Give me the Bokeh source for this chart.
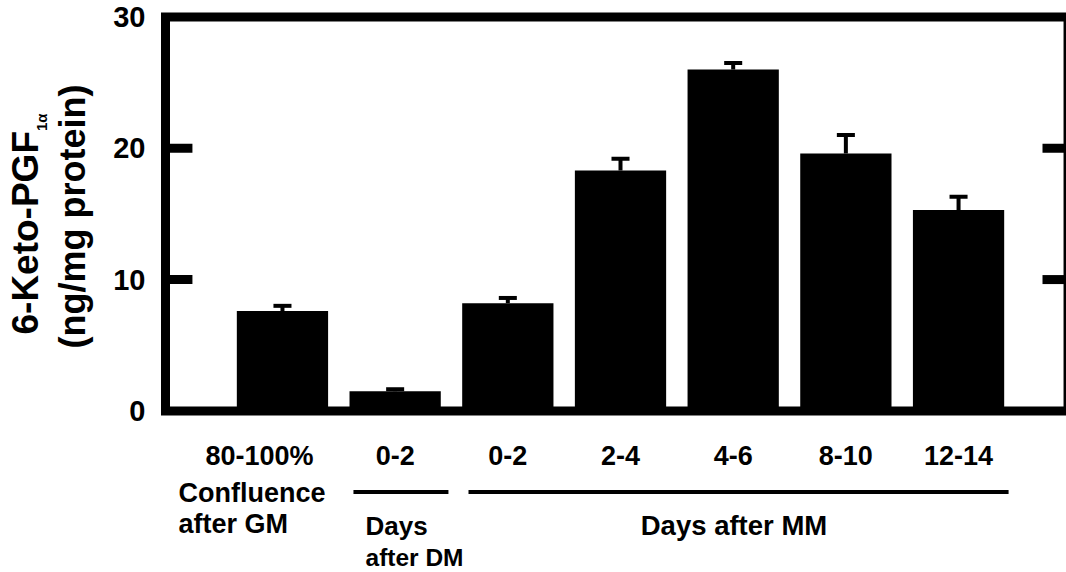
import numpy as np
from bokeh.plotting import figure
from bokeh.layouts import row
from bokeh.models import Range1d, FixedTicker
from bokeh.core.properties import value
from bokeh.embed import file_html
from bokeh.resources import INLINE

# ---------------- data ----------------
categories = ["80-100%", "0-2", "0-2", "2-4", "4-6", "8-10", "12-14"]
means = [7.6, 1.5, 8.2, 18.3, 26.0, 19.6, 15.3]
errors = [0.4, 0.15, 0.4, 0.9, 0.5, 1.4, 1.0]
y_ticks = [0, 10, 20, 30]
y_title_main = "6-Keto-PGF"
y_title_sub = "1α"
y_title_unit = "(ng/mg protein)"
gm_label = ["Confluence", "after GM"]
dm_label = ["Days", "after DM"]
mm_label = "Days after MM"

FONT = "Liberation Sans"
BASE_FIX = 0.37  # rendered baseline sits this many em lower than requested

# ---------------- main plot ----------------
idx = np.arange(len(categories))
m = np.array(means)
e = np.array(errors)

Y0_PX, PX_PER_UNIT = 410.4, 13.133


def ydata(px_baseline, size):
    return (Y0_PX - (px_baseline - BASE_FIX * size)) / PX_PER_UNIT


p = figure(width=966, height=572,
           x_range=Range1d(-1.109, 6.958), y_range=Range1d(-12.305, 31.25),
           output_backend="svg", toolbar_location=None, x_axis_location=None,
           min_border_left=57, min_border_right=0, min_border_top=0, min_border_bottom=0)
p.outline_line_color = None
p.grid.grid_line_color = None
p.background_fill_color = "white"
p.border_fill_color = "white"

ya = p.yaxis[0]
ya.ticker = FixedTicker(ticks=y_ticks)
ya.axis_line_color = None
ya.major_tick_line_color = None
ya.minor_tick_line_color = None
ya.major_tick_out = 0
ya.major_tick_in = 0
ya.major_label_standoff = 12
ya.major_label_text_font = FONT
ya.major_label_text_font_style = "bold"
ya.major_label_text_font_size = "29px"
ya.major_label_text_color = "black"

# bars
p.vbar(x=idx, top=m, bottom=0, width=0.81, fill_color="black", line_color=None)
# error bars
p.segment(x0=idx, y0=m, x1=idx, y1=m + e, line_color="black", line_width=4)
cap = 0.08
p.segment(x0=idx - cap, y0=m + e, x1=idx + cap, y1=m + e, line_color="black", line_width=4)

# frame
x_left = -1.038
x_edge = 6.958
x_right = 6.945
ymax = y_ticks[-1]
p.line(x=[x_edge, x_left, x_left, x_edge], y=[0, 0, ymax, ymax],
       line_color="black", line_width=9, line_join="miter")
p.segment(x0=[x_right], y0=[0], x1=[x_right], y1=[ymax], line_color="black", line_width=3)
inner_ticks = np.array(y_ticks[1:-1], dtype=float)
p.segment(x0=np.full(len(inner_ticks), x_left), y0=inner_ticks,
          x1=np.full(len(inner_ticks), -0.799), y1=inner_ticks,
          line_color="black", line_width=9)
p.segment(x0=np.full(len(inner_ticks), 6.745), y0=inner_ticks,
          x1=np.full(len(inner_ticks), x_edge), y1=inner_ticks,
          line_color="black", line_width=9)


def label(xs, px_base, texts, size, align):
    p.text(x=xs, y=[ydata(px_base, size)] * len(xs), text=texts,
           text_font=value(FONT), text_font_style="bold", text_font_size=f"{size}px",
           text_align=align, text_baseline="alphabetic", text_color="black")


# category labels
lab_x = idx.astype(float).copy()
lab_x[0] = -0.204
label(list(lab_x), 465, categories, 27, "center")

# group labels
label([-0.923], 502, [gm_label[0]], 27, "left")
label([-0.923], 533, [gm_label[1]], 27, "left")
label([0.737], 535, [dm_label[0]], 26, "left")
label([0.737], 566, [dm_label[1]], 24.5, "left")
label([4.007], 535, [mm_label], 27.5, "center")
line_y = (Y0_PX - 491.5) / PX_PER_UNIT
p.segment(x0=[0.630, 1.651], y0=[line_y, line_y], x1=[1.473, 6.444], y1=[line_y, line_y],
          line_color="black", line_width=4)

# ---------------- y title panel ----------------
t = figure(width=100, height=572, x_range=Range1d(0, 100), y_range=Range1d(0, 572),
           output_backend="svg", toolbar_location=None,
           x_axis_location=None, y_axis_location=None,
           min_border_left=0, min_border_right=0, min_border_top=0, min_border_bottom=0)
t.outline_line_color = None
t.grid.grid_line_color = None
H = 572


def vtext(x_base, y_px, txt, size, align):
    t.text(x=[x_base - BASE_FIX * size], y=[H - y_px], text=[txt], angle=np.pi / 2,
           text_font=value(FONT), text_font_style="bold", text_font_size=f"{size}px",
           text_align=align, text_baseline="alphabetic", text_color="black")


vtext(38.5, 334, y_title_main, 37, "left")
vtext(47, 130.5, y_title_sub, 15, "left")
vtext(85.5, 216, y_title_unit, 36, "center")

layout = row(t, p, spacing=0)
open("out.html", "w").write(file_html(layout, INLINE))
